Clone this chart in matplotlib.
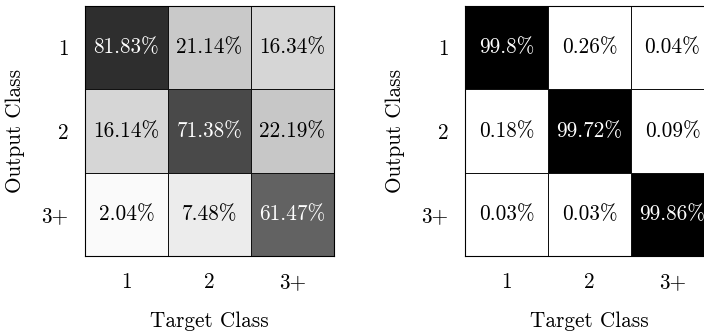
import matplotlib
matplotlib.use('Agg')
import matplotlib.pyplot as plt
import numpy as np

# Computer Modern look
plt.rcParams['font.family'] = ['cmr10', 'DejaVu Serif']
plt.rcParams['mathtext.fontset'] = 'cm'
plt.rcParams['axes.formatter.use_mathtext'] = True

classes = ['1', '2', '3+']

# rows = output class, columns = target class (percent)
cm_left = [[81.83, 21.14, 16.34],
           [16.14, 71.38, 22.19],
           [2.04, 7.48, 61.47]]
labels_left = [['81.83%', '21.14%', '16.34%'],
               ['16.14%', '71.38%', '22.19%'],
               ['2.04%', '7.48%', '61.47%']]

cm_right = [[99.8, 0.26, 0.04],
            [0.18, 99.72, 0.09],
            [0.03, 0.03, 99.86]]
labels_right = [['99.8%', '0.26%', '0.04%'],
                ['0.18%', '99.72%', '0.09%'],
                ['0.03%', '0.03%', '99.86%']]

FS = 15.3

fig = plt.figure(figsize=(7.04, 3.31), dpi=100)
ax1 = fig.add_axes([85 / 704, 1 - 256 / 331, 249 / 704, 250 / 331])
ax2 = fig.add_axes([465 / 704, 1 - 256 / 331, 249 / 704, 250 / 331])


def draw_matrix(ax, vals, labels):
    vals = np.array(vals)
    ax.pcolormesh(vals, cmap='gray_r', vmin=0, vmax=100,
                  edgecolors='#111111', linewidth=0.6)
    for i in range(3):
        for j in range(3):
            color = 'white' if vals[i, j] > 50 else 'black'
            ax.text(j + 0.5, i + 0.5, labels[i][j], ha='center', va='center',
                    fontsize=FS, color=color)
    ax.set_xlim(0, 3)
    ax.set_ylim(3, 0)
    ax.set_xticks([0.5, 1.5, 2.5])
    ax.set_yticks([0.5, 1.5, 2.5])
    ax.set_xticklabels(classes, fontsize=FS)
    ax.set_yticklabels(classes, fontsize=FS)
    ax.tick_params(axis='x', length=0, pad=12)
    ax.tick_params(axis='y', length=0, pad=12)
    ax.set_xlabel('Target Class', fontsize=FS, labelpad=14)
    ax.set_ylabel('Output Class', fontsize=FS, labelpad=12)
    for s in ax.spines.values():
        s.set_linewidth(0.8)


draw_matrix(ax1, cm_left, labels_left)
draw_matrix(ax2, cm_right, labels_right)

fig.savefig('out.png', dpi=100)
